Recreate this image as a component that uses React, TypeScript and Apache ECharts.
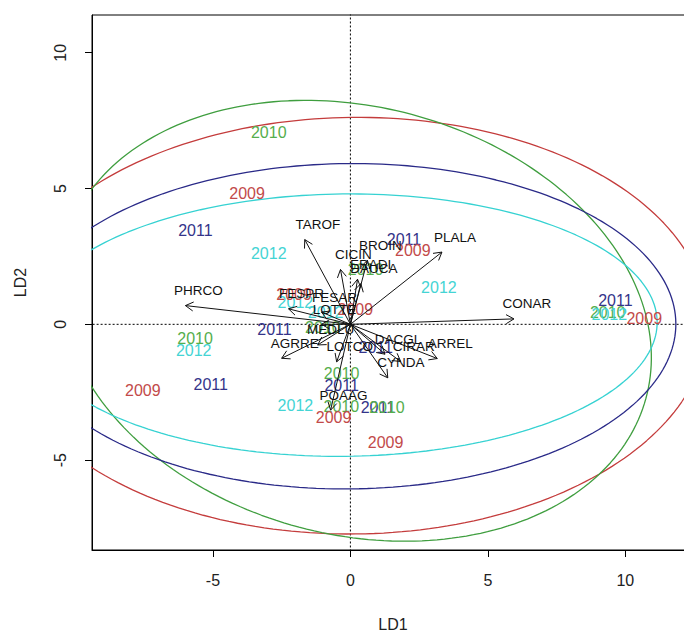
import { useEffect, useRef } from "react";
import * as echarts from "echarts";

// Discriminant scores: one label per sample, coloured by year
const sampleYear = [
  "2010", "2009", "2011", "2012", "2011", "2009", "2012", "2011",
  "2010", "2012", "2009", "2010", "2012", "2009", "2011", "2012",
  "2010", "2011", "2010", "2011", "2010", "2009", "2009", "2011",
  "2010", "2011", "2012", "2012", "2009", "2009", "2010",
];
const sampleX = [
  -2.97, -3.76, -5.64, -2.97, 1.95, 2.27, 3.22, 9.64,
  9.36, 9.42, 10.69, -5.65, -5.70, -7.55, -5.08, -2.0,
  -0.32, -0.32, -0.33, 1.0, 1.33, -0.61, 1.28, -2.76,
  -1.0, 0.92, -2.0, -0.9, -2.05, 0.18, 0.55,
];
const sampleY = [
  7.07, 4.81, 3.45, 2.59, 3.11, 2.71, 1.35, 0.89,
  0.42, 0.37, 0.2, -0.51, -0.95, -2.45, -2.21, -2.98,
  -1.8, -2.25, -3.02, -3.05, -3.07, -3.43, -4.36, -0.19,
  -0.12, -0.87, 0.79, 0.45, 1.1, 0.54, 2.03,
];

// Species loadings drawn as arrows from the origin
const speciesNames = [
  "PHRCO", "CONAR", "TAROF", "PLALA", "AGRRE", "ARREL", "CYNDA", "POAAG",
  "DACGL", "CIRAR", "BROIN", "CICIN", "ERADI", "DAUCA", "FESPR", "FESAR",
  "LOTTE", "MEDLU", "LOTCO",
];
const speciesX = [
  -6.0, 5.95, -1.66, 3.33, -2.5, 3.16, 1.36, -0.72,
  1.26, 1.83, 0.62, -0.36, 0.26, 0.38, -2.25, -1.05,
  -1.05, -1.19, -0.5,
];
const speciesY = [
  0.69, 0.2, 3.12, 2.66, -1.25, -1.26, -1.97, -3.16,
  -1.1, -1.37, 2.36, 2.02, 1.66, 1.5, 0.57, 0.45,
  0.0, -0.76, -1.38,
];

// Year ellipses: centre, semi-axes and rotation in degrees
const years = ["2009", "2010", "2011", "2012"];
const ellipseCx = [0.12, 0.18, -0.05, -0.23];
const ellipseCy = [-0.05, 0.13, -0.07, -0.03];
const ellipseA = [12.88, 10.95, 11.89, 11.39];
const ellipseB = [7.67, 7.87, 5.99, 4.83];
const ellipseAngle = [0.6, -15.1, 0.5, 0.6];

const xTicks = [-5, 0, 5, 10];
const yTicks = [-5, 0, 5, 10];

const yearText: Record<string, string> = {
  "2009": "#c24a4a",
  "2010": "#55ae4c",
  "2011": "#34348a",
  "2012": "#44d4d4",
};
const yearLine: Record<string, string> = {
  "2009": "#c43c3c",
  "2010": "#3f9e3f",
  "2011": "#2a2a88",
  "2012": "#36d2d2",
};

const FONT = '"Liberation Sans", Arial, sans-serif';

function ellipsePoints(i: number): number[][] {
  const phi = (ellipseAngle[i] * Math.PI) / 180;
  const pts: number[][] = [];
  const n = 240;
  for (let k = 0; k <= n; k++) {
    const t = (2 * Math.PI * k) / n;
    const ca = ellipseA[i] * Math.cos(t);
    const sb = ellipseB[i] * Math.sin(t);
    pts.push([
      ellipseCx[i] + ca * Math.cos(phi) - sb * Math.sin(phi),
      ellipseCy[i] + ca * Math.sin(phi) + sb * Math.cos(phi),
    ]);
  }
  return pts;
}

export default function App() {
  const ref = useRef<HTMLDivElement>(null);

  useEffect(() => {
    if (!ref.current) return;
    const chart = echarts.init(ref.current, null, { renderer: "svg" });

    const ellipseSeries = years.map((yr, i) => ({
      type: "line",
      name: yr,
      data: ellipsePoints(i),
      showSymbol: false,
      symbol: "none",
      smooth: false,
      clip: true,
      silent: true,
      lineStyle: { color: yearLine[yr], width: 1.3 },
      z: 2,
    }));

    const zeroLines = [
      [[-20, 0], [20, 0]],
      [[0, -20], [0, 20]],
    ].map((d) => ({
      type: "line",
      data: d,
      showSymbol: false,
      symbol: "none",
      clip: true,
      silent: true,
      lineStyle: { color: "#000", width: 1, type: [2, 2] },
      z: 1,
    }));

    const sampleSeries = {
      type: "custom",
      coordinateSystem: "cartesian2d",
      silent: true,
      z: 3,
      data: sampleX.map((x, i) => [x, sampleY[i]]),
      renderItem: (params: any, api: any) => {
        const p = api.coord([api.value(0), api.value(1)]);
        const yr = sampleYear[params.dataIndex];
        return {
          type: "text",
          x: p[0],
          y: p[1],
          style: {
            text: yr,
            fill: yearText[yr],
            fontSize: 16,
            fontFamily: FONT,
            align: "center",
            verticalAlign: "middle",
          },
        };
      },
    };

    const arrowSeries = {
      type: "custom",
      coordinateSystem: "cartesian2d",
      silent: true,
      z: 4,
      data: speciesX.map((x, i) => [x, speciesY[i]]),
      renderItem: (params: any, api: any) => {
        const o = api.coord([0, 0]);
        const t = api.coord([api.value(0), api.value(1)]);
        const ang = Math.atan2(t[1] - o[1], t[0] - o[0]);
        const len = 9;
        const spread = Math.PI / 6;
        const h1 = [t[0] - len * Math.cos(ang - spread), t[1] - len * Math.sin(ang - spread)];
        const h2 = [t[0] - len * Math.cos(ang + spread), t[1] - len * Math.sin(ang + spread)];
        return {
          type: "group",
          children: [
            {
              type: "line",
              shape: { x1: o[0], y1: o[1], x2: t[0], y2: t[1] },
              style: { stroke: "#111", lineWidth: 1 },
            },
            {
              type: "polyline",
              shape: { points: [h1, t, h2] },
              style: { stroke: "#111", fill: null, lineWidth: 1 },
            },
            {
              type: "text",
              x: t[0] + 13,
              y: t[1] - 15,
              style: {
                text: speciesNames[params.dataIndex],
                fill: "#111",
                fontSize: 13.5,
                fontFamily: FONT,
                align: "center",
                verticalAlign: "middle",
              },
            },
          ],
        };
      },
    };

    chart.setOption({
      animation: false,
      backgroundColor: "#fff",
      textStyle: { fontFamily: FONT },
      grid: {
        left: 92,
        top: 15,
        right: 6,
        bottom: 80,
        show: true,
        borderColor: "#000",
        borderWidth: 1,
        backgroundColor: "transparent",
      },
      xAxis: {
        type: "value",
        min: -9.4,
        max: 12.5,
        name: "LD1",
        nameLocation: "middle",
        nameGap: 66,
        nameTextStyle: { fontSize: 16, color: "#222", fontFamily: FONT },
        axisLine: { show: true, onZero: false, lineStyle: { color: "#000", width: 1 } },
        axisTick: { show: true, customValues: xTicks, length: 7, lineStyle: { color: "#000" } },
        axisLabel: { customValues: xTicks, fontSize: 16, color: "#222", margin: 22, fontFamily: FONT },
        splitLine: { show: false },
      },
      yAxis: {
        type: "value",
        min: -8.31,
        max: 11.39,
        name: "LD2",
        nameLocation: "middle",
        nameGap: 64,
        nameRotate: 90,
        nameTextStyle: { fontSize: 16, color: "#222", fontFamily: FONT },
        axisLine: { show: true, onZero: false, lineStyle: { color: "#000", width: 1 } },
        axisTick: { show: true, customValues: yTicks, length: 7, lineStyle: { color: "#000" } },
        axisLabel: { customValues: yTicks, rotate: 90, fontSize: 16, color: "#222", margin: 24, fontFamily: FONT },
        splitLine: { show: false },
      },
      series: [...zeroLines, ...ellipseSeries, sampleSeries, arrowSeries],
    } as any);

    return () => chart.dispose();
  }, []);

  // The plot box runs past the right edge of the 684px frame and is cut there
  return (
    <div style={{ position: "absolute", left: 0, top: 0, width: 684, height: 637, overflow: "hidden" }}>
      <div ref={ref} style={{ width: 700, height: 637 }} />
    </div>
  );
}
